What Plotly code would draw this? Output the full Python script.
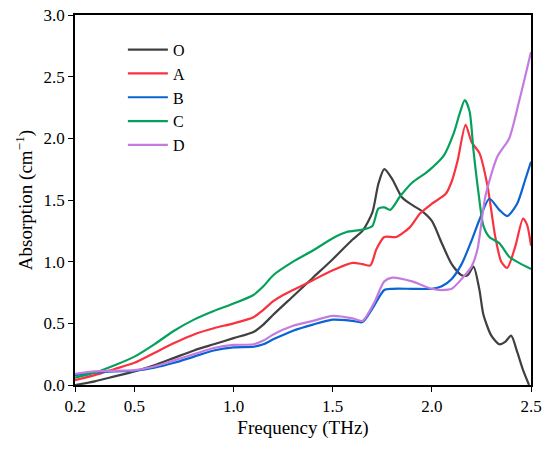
import plotly.graph_objects as go

# Frequency (THz) and absorption (cm^-1)
o_f = [0.2, 0.3, 0.4, 0.5, 0.6, 0.7, 0.8, 0.9, 1.0, 1.1, 1.15, 1.2, 1.3, 1.4, 1.5, 1.6, 1.65, 1.7, 1.73, 1.76, 1.8, 1.85, 1.9, 1.95, 2.0, 2.05, 2.1, 2.15, 2.18, 2.21, 2.24, 2.26, 2.3, 2.34, 2.37, 2.4, 2.43, 2.46, 2.49]
o_v = [0.0, 0.03, 0.07, 0.11, 0.16, 0.22, 0.28, 0.33, 0.38, 0.43, 0.49, 0.57, 0.72, 0.87, 1.02, 1.18, 1.25, 1.40, 1.63, 1.75, 1.67, 1.52, 1.46, 1.41, 1.33, 1.15, 0.98, 0.89, 0.89, 0.96, 0.77, 0.57, 0.40, 0.33, 0.35, 0.40, 0.27, 0.12, 0.0]

a_f = [0.2, 0.3, 0.4, 0.5, 0.6, 0.7, 0.8, 0.9, 1.0, 1.1, 1.15, 1.2, 1.25, 1.3, 1.4, 1.5, 1.6, 1.65, 1.69, 1.72, 1.76, 1.82, 1.89, 1.94, 2.0, 2.07, 2.1, 2.13, 2.17, 2.2, 2.24, 2.28, 2.32, 2.35, 2.38, 2.42, 2.46, 2.48, 2.5]
a_v = [0.04, 0.08, 0.13, 0.18, 0.26, 0.34, 0.41, 0.46, 0.50, 0.55, 0.61, 0.68, 0.73, 0.77, 0.85, 0.93, 0.99, 0.98, 0.97, 1.10, 1.20, 1.20, 1.28, 1.39, 1.47, 1.55, 1.65, 1.82, 2.11, 1.97, 1.88, 1.62, 1.20, 1.00, 0.95, 1.12, 1.35, 1.30, 1.13]

b_f = [0.2, 0.3, 0.4, 0.5, 0.6, 0.7, 0.8, 0.9, 1.0, 1.1, 1.15, 1.2, 1.3, 1.4, 1.5, 1.6, 1.65, 1.7, 1.76, 1.8, 1.9, 2.0, 2.05, 2.1, 2.15, 2.2, 2.24, 2.29, 2.34, 2.38, 2.43, 2.47, 2.5]
b_v = [0.08, 0.10, 0.11, 0.115, 0.14, 0.18, 0.23, 0.28, 0.305, 0.31, 0.33, 0.37, 0.44, 0.49, 0.53, 0.52, 0.51, 0.62, 0.77, 0.78, 0.78, 0.78, 0.80, 0.86, 0.98, 1.17, 1.34, 1.51, 1.42, 1.37, 1.47, 1.66, 1.81]

c_f = [0.2, 0.3, 0.4, 0.5, 0.6, 0.7, 0.8, 0.9, 1.0, 1.1, 1.15, 1.2, 1.3, 1.4, 1.5, 1.57, 1.65, 1.7, 1.73, 1.76, 1.79, 1.84, 1.9, 1.97, 2.0, 2.06, 2.11, 2.14, 2.166, 2.19, 2.21, 2.235, 2.26, 2.29, 2.34, 2.39, 2.44, 2.5]
c_v = [0.06, 0.10, 0.16, 0.23, 0.33, 0.44, 0.53, 0.60, 0.66, 0.73, 0.80, 0.89, 1.00, 1.09, 1.19, 1.24, 1.26, 1.29, 1.43, 1.44, 1.42, 1.53, 1.64, 1.72, 1.76, 1.86, 2.04, 2.20, 2.31, 2.22, 1.90, 1.56, 1.29, 1.20, 1.15, 1.04, 0.99, 0.94]

d_f = [0.2, 0.3, 0.4, 0.5, 0.6, 0.7, 0.8, 0.9, 1.0, 1.1, 1.15, 1.2, 1.3, 1.4, 1.5, 1.6, 1.65, 1.71, 1.76, 1.8, 1.9, 2.0, 2.05, 2.1, 2.15, 2.2, 2.23, 2.27, 2.33, 2.39, 2.44, 2.5]
d_v = [0.09, 0.11, 0.115, 0.12, 0.15, 0.20, 0.25, 0.30, 0.325, 0.33, 0.36, 0.41, 0.48, 0.52, 0.56, 0.54, 0.52, 0.67, 0.84, 0.87, 0.84, 0.78, 0.77, 0.78, 0.86, 0.96, 1.10, 1.53, 1.85, 2.00, 2.30, 2.70]

names = ["O", "A", "B", "C", "D"]
colors = ["#404040", "#f8333f", "#0a64d2", "#05a15c", "#c47be0"]
xs = [o_f, a_f, b_f, c_f, d_f]
ys = [o_v, a_v, b_v, c_v, d_v]

x_ticks = [0.2, 0.5, 1.0, 1.5, 2.0, 2.5]
y_ticks = [0.0, 0.5, 1.0, 1.5, 2.0, 2.5, 3.0]

FONT = "Liberation Serif, Times New Roman, serif"

fig = go.Figure()
for n, c, x, y in zip(names, colors, xs, ys):
    fig.add_trace(go.Scatter(x=x, y=y, name=n, mode="lines",
                             line=dict(color=c, width=2.2, shape="spline", smoothing=0.7)))

fig.update_layout(
    width=550, height=452,
    margin=dict(l=75, r=19, t=15, b=67, autoexpand=False),
    paper_bgcolor="white", plot_bgcolor="white",
    font=dict(family=FONT, size=17, color="black"),
    showlegend=True,
    legend=dict(x=0.105, y=0.952, xanchor="left", yanchor="top",
                bgcolor="rgba(0,0,0,0)", font=dict(family=FONT, size=16),
                itemwidth=40, tracegroupgap=0),
)
fig.update_xaxes(
    range=[0.2, 2.5], tickvals=x_ticks, ticktext=[f"{v:.1f}" for v in x_ticks],
    tickfont=dict(family=FONT, size=17), automargin=False,
    ticks="outside", ticklen=5, tickwidth=1.3, tickcolor="black",
    showline=True, linecolor="black", linewidth=1.5, mirror=True,
    showgrid=False, zeroline=False,
    title=dict(text="Frequency (THz)", font=dict(family=FONT, size=19), standoff=6),
)
fig.update_yaxes(
    range=[0, 3.0], tickvals=y_ticks, ticktext=[f"{v:.1f}" for v in y_ticks],
    tickfont=dict(family=FONT, size=17), automargin=False,
    ticks="outside", ticklen=5, tickwidth=1.3, tickcolor="black",
    showline=True, linecolor="black", linewidth=1.5, mirror=True,
    showgrid=False, zeroline=False,
    title=dict(text="Absorption (cm<sup>−1</sup>)", font=dict(family=FONT, size=19), standoff=6),
)

fig.write_html("out.html", config={"displayModeBar": False},
               post_script="document.body.style.margin='0';")
